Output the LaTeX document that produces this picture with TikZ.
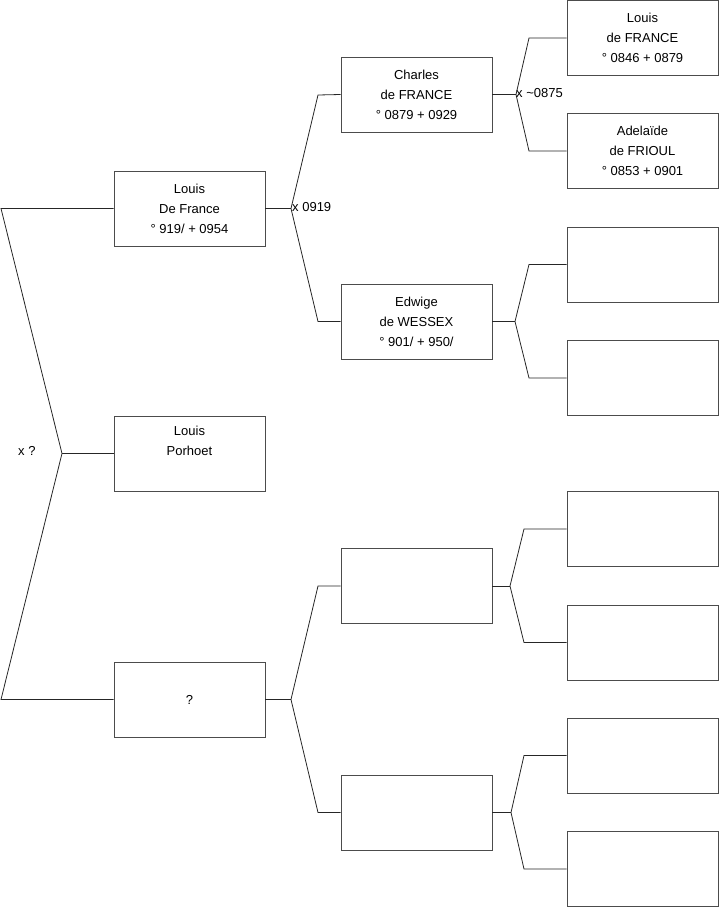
\documentclass[tikz,border=0pt]{standalone}
\usepackage{fontspec}
\setmainfont{Liberation Sans}
\begin{document}
\begin{tikzpicture}[x=1pt,y=-1pt,
  person/.style={draw=black!70,line width=0.8pt,fill=white,minimum width=151pt,minimum height=75pt,
    inner sep=0pt,align=center,font=\fontsize{13}{20}\selectfont},
  link/.style={draw=black!85,line width=0.8pt},
  mark/.style={}, 
  lbl/.style={anchor=west,inner sep=0pt,font=\fontsize{13}{16}\selectfont}]
\useasboundingbox (0,0) rectangle (719,908);
% column 1
\node[person] (a) at (189.5,208.5) {Louis\\De France\\° 919/ + 0954};
\node[person] (b) at (189.5,453.5) {Louis\\Porhoet\\\strut};
\node[person] (c) at (189.5,699.5) {?};
% column 2
\node[person] (d) at (416.5,94.5) {Charles\\de FRANCE\\° 0879 + 0929};
\node[person] (e) at (416.5,321.5) {Edwige\\de WESSEX\\° 901/ + 950/};
\node[person] (f) at (416.5,586) {};
\node[person] (g) at (416.5,812.5) {};
% column 3
\node[person] (h1) at (642.5,38) {Louis\\de FRANCE\\° 0846 + 0879};
\node[person] (h2) at (642.5,151) {Adelaïde\\de FRIOUL\\° 0853 + 0901};
\node[person] (h3) at (642.5,264.5) {};
\node[person] (h4) at (642.5,378) {};
\node[person] (h5) at (642.5,529) {};
\node[person] (h6) at (642.5,642.5) {};
\node[person] (h7) at (642.5,755.5) {};
\node[person] (h8) at (642.5,869) {};
% left bracket
\coordinate (l1) at (1,208.5);
\coordinate (lv) at (62,453.5);
\coordinate (l2) at (1,699.5);
\draw[link] (a.west) -- (l1) -- (lv) -- (l2) -- (c.west);
\draw[link] (lv) -- (b.west);
\node[lbl] (xq) at (18,451) {x ?};
% a -> d,e
\coordinate (av) at (291,208.5);
\coordinate (au) at (318,95);
\coordinate (ad) at (318,321.5);
\draw[link] (a.east) -- (av);
\draw[link] (d.west) -- (au) -- (av) -- (ad) -- (e.west);
\node[lbl] (xa) at (292,207) {x 0919};
% c -> f,g
\coordinate (cv) at (291,699.5);
\coordinate (cu) at (318,586);
\coordinate (cd) at (318,812.5);
\draw[link] (c.east) -- (cv);
\draw[link] (f.west) -- (cu) -- (cv) -- (cd) -- (g.west);
% d -> h1,h2
\coordinate (dv) at (516,94.5);
\coordinate (du) at (529,38);
\coordinate (dd) at (529,151);
\draw[link] (d.east) -- (dv);
\draw[link] (h1.west) -- (du) -- (dv) -- (dd) -- (h2.west);
\node[lbl] (xd) at (516,93.5) {x \textasciitilde0875};
% e -> h3,h4
\coordinate (ev) at (515,321.5);
\coordinate (eu) at (529,264.5);
\coordinate (ed) at (529,378);
\draw[link] (e.east) -- (ev);
\draw[link] (h3.west) -- (eu) -- (ev) -- (ed) -- (h4.west);
% f -> h5,h6
\coordinate (fv) at (510,586);
\coordinate (fu) at (524,529);
\coordinate (fd) at (524,642.5);
\draw[link] (f.east) -- (fv);
\draw[link] (h5.west) -- (fu) -- (fv) -- (fd) -- (h6.west);
% g -> h7,h8
\coordinate (gv) at (511,812.5);
\coordinate (gu) at (524,755.5);
\coordinate (gd) at (524,869);
\draw[link] (g.east) -- (gv);
\draw[link] (h7.west) -- (gu) -- (gv) -- (gd) -- (h8.west);
\end{tikzpicture}
\end{document}
